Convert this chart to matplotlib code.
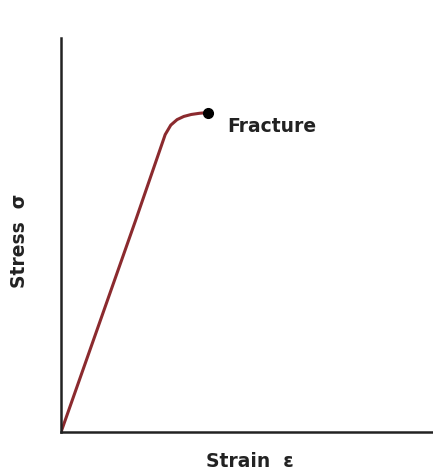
import numpy as np
import matplotlib.pyplot as plt

# stress-strain curve (normalised units)
strain = [0.0, 0.10, 0.20, 0.280, 0.295, 0.312, 0.330, 0.350, 0.372, 0.395]
stress = [0.0, 0.268, 0.536, 0.755, 0.779, 0.793, 0.801, 0.806, 0.809, 0.811]
fracture = (0.395, 0.811)

fig = plt.figure(figsize=(4.33, 4.72), dpi=100)
ax = fig.add_axes([0.141, 0.0847, 0.859, 0.8347])

ax.plot(strain, stress, color='#8b2a2e', lw=2.2, solid_capstyle='round')
ax.plot(*fracture, 'o', color='black', ms=7)
ax.text(fracture[0] + 0.052, fracture[1] - 0.035, 'Fracture',
        fontsize=13.5, fontweight='bold', color='#222222', va='center')

ax.set_xlim(0, 1)
ax.set_ylim(0, 1)
ax.set_xticks([])
ax.set_yticks([])
for s in ['top', 'right']:
    ax.spines[s].set_visible(False)
for s in ['left', 'bottom']:
    ax.spines[s].set_linewidth(1.8)
    ax.spines[s].set_color('#222222')

fig.text(0.578, 0.022, 'Strain  ε', fontsize=13.5, fontweight='bold',
         ha='center', va='center', color='#222222')
fig.text(0.046, 0.49, 'Stress  σ', fontsize=13.5, fontweight='bold',
         rotation=90, ha='center', va='center', color='#222222')

fig.savefig('out.png', dpi=100)
